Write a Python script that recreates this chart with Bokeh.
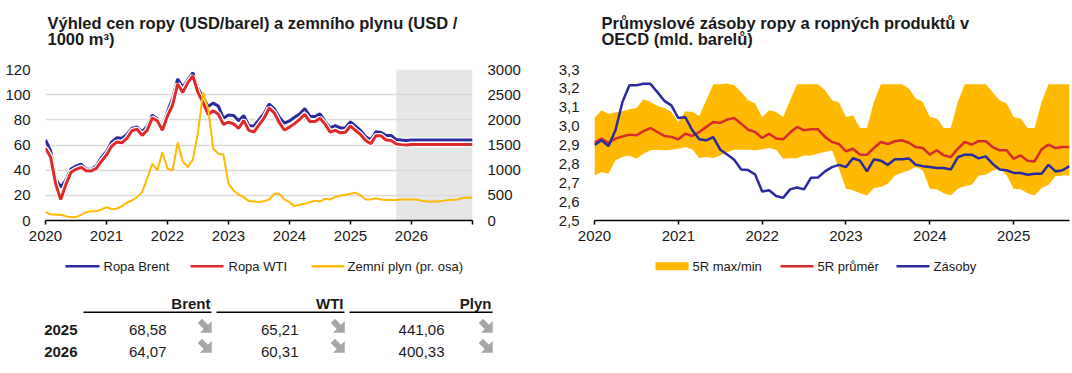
from bokeh.plotting import figure
from bokeh.models import (Range1d, LinearAxis, FixedTicker, BoxAnnotation,
                          CustomJSTickFormatter, ColumnDataSource)
from bokeh.layouts import row, column
from bokeh.embed import file_html
from bokeh.resources import INLINE
from bokeh.core.properties import value

FONT = "Liberation Sans"
TXT = "#1a1a1a"
BLUE = "#2B2B9E"
RED = "#DE2A2A"
GOLD = "#FFB900"
BLUE_R = "#2A2AA3"
RED_R = "#D92B2B"

# ---------------- left chart data (monthly, Jan 2020 - Jan 2027) ----------------
left_years = ["2020", "2021", "2022", "2023", "2024", "2025", "2026"]
brent = [64.0, 55.5, 33.0, 26.6, 32.0, 40.8, 43.2, 44.7, 41.0, 40.5, 43.5, 50.0,
         54.8, 62.3, 65.7, 65.3, 68.3, 73.4, 74.3, 70.5, 74.9, 83.7, 80.9, 74.3,
         86.5, 97.1, 112.5, 105.8, 112.0, 117.5, 105.1, 97.7, 90.6, 93.3, 90.9, 81.3,
         83.9, 83.5, 79.2, 83.4, 75.5, 75.0, 80.1, 85.1, 92.6, 88.7, 82.0, 77.3,
         79.1, 82.0, 84.7, 89.0, 82.9, 82.6, 84.7, 78.8, 73.6, 75.4, 73.6, 73.8,
         78.4, 75.0, 71.5, 66.5, 64.2, 70.5, 70.0, 67.5, 67.6, 64.3, 63.9, 63.6,
         64.07, 64.07, 64.07, 64.07, 64.07, 64.07, 64.07, 64.07, 64.07, 64.07, 64.07, 64.07,
         64.07]
wti = [57.5, 50.5, 29.2, 16.6, 28.5, 38.3, 40.7, 42.3, 39.6, 39.4, 41.4, 47.1,
       52.0, 59.0, 62.3, 61.7, 65.2, 71.4, 72.5, 67.7, 71.6, 81.5, 79.2, 71.7,
       83.2, 91.6, 108.5, 101.8, 109.6, 114.8, 101.6, 93.7, 84.3, 87.3, 84.4, 76.4,
       78.1, 76.8, 73.3, 79.4, 71.6, 70.3, 76.0, 81.4, 89.4, 85.6, 77.7, 71.9,
       74.2, 77.0, 80.4, 84.4, 78.6, 78.7, 81.3, 76.6, 70.2, 71.6, 69.7, 70.1,
       75.1, 71.5, 68.2, 63.5, 61.0, 67.3, 67.3, 64.0, 63.5, 60.8, 60.3, 60.0,
       60.31, 60.31, 60.31, 60.31, 60.31, 60.31, 60.31, 60.31, 60.31, 60.31, 60.31, 60.31,
       60.31]
gas = [166, 125, 113, 113, 86, 66, 66, 113, 166, 186, 186, 219,
       265, 225, 232, 285, 352, 398, 465, 564, 830, 1128, 995, 1360,
       1030, 995, 1547, 1175, 1062, 1215, 1750, 2542, 2224, 1427, 1327, 1307,
       730, 597, 511, 465, 385, 378, 365, 385, 418, 530, 530, 418,
       365, 285, 312, 332, 365, 391, 378, 431, 418, 465, 498, 511,
       531, 551, 498, 418, 418, 445, 418, 405, 405, 405, 418, 418,
       418, 418, 391, 378, 378, 378, 385, 405, 405, 418, 445, 458,
       451]
forecast_from = 69  # Oct 2025
left_legend = ["Ropa Brent", "Ropa WTI", "Zemní plyn (pr. osa)"]

# ---------------- right chart data (monthly, Jan 2020 - Sep 2025) ----------------
right_years = ["2020", "2021", "2022", "2023", "2024", "2025"]
max5 = [3.043, 3.084, 3.066, 3.072, 3.079, 3.090, 3.096, 3.143, 3.128, 3.107, 3.096, 3.075,
        3.022, 3.079, 3.075, 3.054, 3.137, 3.222, 3.222, 3.226, 3.217, 3.181, 3.137, 3.120,
        3.047, 3.084, 3.075, 3.049, 3.137, 3.222, 3.222, 3.222, 3.222, 3.190, 3.137, 3.125,
        3.049, 3.058, 2.990, 2.990, 3.128, 3.222, 3.222, 3.222, 3.222, 3.200, 3.146, 3.128,
        3.049, 3.040, 2.990, 2.990, 3.128, 3.222, 3.222, 3.222, 3.222, 3.180, 3.137, 3.120,
        3.049, 3.040, 2.990, 2.990, 3.128, 3.222, 3.222, 3.222, 3.222]
min5 = [2.739, 2.757, 2.748, 2.819, 2.836, 2.845, 2.827, 2.854, 2.872, 2.875, 2.872, 2.875,
        2.880, 2.889, 2.877, 2.831, 2.836, 2.831, 2.845, 2.863, 2.875, 2.875, 2.875, 2.872,
        2.877, 2.884, 2.875, 2.827, 2.830, 2.830, 2.845, 2.845, 2.855, 2.863, 2.872, 2.774,
        2.668, 2.660, 2.645, 2.633, 2.672, 2.677, 2.695, 2.739, 2.753, 2.765, 2.783, 2.765,
        2.668, 2.665, 2.645, 2.633, 2.668, 2.682, 2.690, 2.739, 2.743, 2.765, 2.774, 2.740,
        2.668, 2.665, 2.645, 2.633, 2.672, 2.690, 2.735, 2.739, 2.739]
avg5 = [2.912, 2.934, 2.912, 2.934, 2.945, 2.955, 2.951, 2.973, 2.990, 2.969, 2.948, 2.943,
        2.930, 2.960, 2.948, 2.969, 2.996, 3.022, 3.017, 3.035, 3.043, 3.013, 2.981, 2.969,
        2.937, 2.960, 2.934, 2.930, 2.966, 2.996, 2.978, 2.983, 2.983, 2.943, 2.916, 2.905,
        2.866, 2.880, 2.849, 2.849, 2.884, 2.916, 2.905, 2.920, 2.925, 2.912, 2.889, 2.884,
        2.849, 2.872, 2.845, 2.836, 2.880, 2.916, 2.902, 2.920, 2.920, 2.889, 2.872, 2.872,
        2.827, 2.845, 2.817, 2.813, 2.877, 2.902, 2.884, 2.889, 2.889]
stocks = [2.900, 2.925, 2.895, 2.978, 3.128, 3.217, 3.217, 3.224, 3.224, 3.180, 3.134, 3.110,
          3.043, 3.047, 2.978, 2.930, 2.925, 2.942, 2.875, 2.850, 2.822, 2.770, 2.767, 2.744,
          2.654, 2.660, 2.630, 2.620, 2.665, 2.675, 2.665, 2.727, 2.728, 2.760, 2.783, 2.795,
          2.783, 2.830, 2.817, 2.760, 2.824, 2.817, 2.795, 2.824, 2.824, 2.829, 2.795, 2.788,
          2.783, 2.778, 2.778, 2.770, 2.835, 2.849, 2.849, 2.829, 2.840, 2.800, 2.770, 2.766,
          2.752, 2.752, 2.742, 2.748, 2.748, 2.795, 2.760, 2.766, 2.788]
right_legend = ["5R max/min", "5R průměr", "Zásoby"]

# ---------------- table data ----------------
tab_cols = ["Brent", "WTI", "Plyn"]
tab_years = ["2025", "2026"]
tab_brent = [68.58, 64.07]
tab_wti = [65.21, 60.31]
tab_gas = [441.06, 400.33]


def style_text_axis(ax, size="15px"):
    ax.major_label_text_font = FONT
    ax.major_label_text_font_size = size
    ax.major_label_text_color = TXT
    ax.minor_tick_line_color = None


def style_y_axis(ax):
    ax.axis_line_color = None
    ax.major_tick_line_color = None
    ax.major_tick_in = 0
    ax.major_tick_out = 0
    ax.major_label_standoff = 15
    style_text_axis(ax)


def style_x_axis(ax):
    ax.axis_line_color = "black"
    ax.axis_line_width = 1.5
    ax.major_tick_line_color = "black"
    ax.major_tick_line_width = 1.5
    ax.major_tick_in = 0
    ax.major_tick_out = 4
    ax.major_label_standoff = 6
    style_text_axis(ax)


def blank_fig(w, h):
    f = figure(width=w, height=h, x_range=Range1d(0, w), y_range=Range1d(0, h),
               toolbar_location=None, output_backend="svg", title=None,
               x_axis_location=None, y_axis_location=None,
               min_border=0, min_border_left=0, min_border_right=0,
               min_border_top=0, min_border_bottom=0, outline_line_color=None)
    f.xgrid.visible = False
    f.ygrid.visible = False
    return f


def txt(p, x, y, text, size="15px", bold=False, align="left"):
    p.text(x=x, y=y, text=text, text_font=value(FONT), text_font_size=size,
           text_font_style="bold" if bold else "normal", text_color=TXT,
           text_align=align, text_baseline="middle")


WL, WR = 544, 528

# ================= titles (page y 0..50, y up) =================
TH = 50
tl = blank_fig(WL, TH)
txt(tl, [47, 47], [27.5, 11.5],
    ["Výhled cen ropy (USD/barel) a zemního plynu (USD /", "1000 m³)"], "16.5px", True)
tr = blank_fig(WR, TH)
txt(tr, [57, 57], [27.5, 11.5],
    ["Průmyslové zásoby ropy a ropných produktů v", "OECD (mld. barelů)"], "16.5px", True)

# ================= charts (page y 50..250, frame 69..220) =================
CH = 200

n_l = len(brent)
src_l = ColumnDataSource(dict(x=list(range(n_l)), brent=brent, wti=wti, gas=gas))
pl = figure(width=WL, height=CH, x_range=Range1d(0, n_l - 1), y_range=Range1d(0, 120),
            title=None, toolbar_location=None, output_backend="svg",
            min_border_left=45, min_border_right=72, min_border_top=19, min_border_bottom=30,
            outline_line_color=None)
pl.extra_y_ranges = {"gas": Range1d(0, 3000)}

pl.add_layout(BoxAnnotation(left=forecast_from, right=n_l - 1, fill_color="#E6E6E6",
                            fill_alpha=1, line_color=None, level="image"))

pl.xgrid.visible = False
pl.ygrid.grid_line_color = "#D9D9D9"
pl.ygrid.grid_line_width = 1.5

pl.yaxis.ticker = FixedTicker(ticks=list(range(0, 121, 20)))
style_y_axis(pl.yaxis[0])

ax_r = LinearAxis(y_range_name="gas", ticker=FixedTicker(ticks=list(range(0, 3001, 500))))
style_y_axis(ax_r)
pl.add_layout(ax_r, "right")

xt_l = list(range(0, n_l, 12))
pl.xaxis.ticker = FixedTicker(ticks=xt_l)
pl.xaxis.major_label_overrides = {t: (left_years[i] if i < len(left_years) else "")
                                  for i, t in enumerate(xt_l)}
style_x_axis(pl.xaxis[0])

pl.line("x", "brent", source=src_l, line_color="white", line_width=5.5)
pl.line("x", "brent", source=src_l, line_color=BLUE, line_width=3)
pl.line("x", "wti", source=src_l, line_color="white", line_width=5.5)
pl.line("x", "wti", source=src_l, line_color=RED, line_width=3)
pl.line("x", "gas", source=src_l, y_range_name="gas", line_color=GOLD, line_width=2)

n_r = len(stocks)
src_r = ColumnDataSource(dict(x=list(range(n_r)), mx=max5, mn=min5, avg=avg5, st=stocks))
pr = figure(width=WR, height=CH, x_range=Range1d(0, n_r - 1), y_range=Range1d(2.5, 3.3),
            title=None, toolbar_location=None, output_backend="svg",
            min_border_left=50, min_border_right=3, min_border_top=19, min_border_bottom=30,
            outline_line_color=None)
pr.xgrid.visible = False
pr.ygrid.visible = False

pr.yaxis.ticker = FixedTicker(ticks=[round(2.5 + 0.1 * i, 1) for i in range(9)])
pr.yaxis.formatter = CustomJSTickFormatter(code="return tick.toFixed(1).replace('.', ',');")
style_y_axis(pr.yaxis[0])

xt_r = list(range(0, n_r, 12))
pr.xaxis.ticker = FixedTicker(ticks=xt_r)
pr.xaxis.major_label_overrides = {t: right_years[i] for i, t in enumerate(xt_r)}
style_x_axis(pr.xaxis[0])

pr.varea("x", y1="mn", y2="mx", source=src_r, fill_color=GOLD)
pr.line("x", "avg", source=src_r, line_color=RED_R, line_width=2.5)
pr.line("x", "st", source=src_r, line_color=BLUE_R, line_width=2.5)

# ================= bottom: legends + table (page y 250..373, y up) =================
BW, BH = 1072, 123
bt = blank_fig(BW, BH)

LEG_Y = 107.3  # page y 265.7
# left legend
bt.segment(x0=[65, 190, 311], y0=[LEG_Y] * 3, x1=[99, 223, 344], y1=[LEG_Y] * 3,
           line_color=[BLUE, RED, GOLD], line_width=2.5)
txt(bt, [103, 228, 347], [LEG_Y] * 3, left_legend, "13px")
# right legend
bt.quad(left=[655], right=[688], bottom=[LEG_Y - 4], top=[LEG_Y + 4], fill_color=GOLD,
        line_color=None)
bt.segment(x0=[780, 896], y0=[LEG_Y] * 2, x1=[813, 929], y1=[LEG_Y] * 2,
           line_color=[RED_R, BLUE_R], line_width=2.5)
txt(bt, [692, 817, 933], [LEG_Y] * 3, right_legend, "13px")

# table
txt(bt, [210, 343, 491], [69.9] * 3, tab_cols, "15px", True, "right")
bt.segment(x0=[83, 216, 349], y0=[61.3] * 3, x1=[211, 344, 492], y1=[61.3] * 3,
           line_color="black", line_width=1.5)
row_y = [43.9, 21.5]
txt(bt, [77, 77], row_y, tab_years, "15px", True, "right")


def fmt(v):
    return f"{v:.2f}".replace(".", ",")


for xr, vals in zip([166, 298, 444], [tab_brent, tab_wti, tab_gas]):
    txt(bt, [xr, xr], row_y, [fmt(v) for v in vals], "15px", False, "right")

# trend arrow icons (pointing down-right)
AX = [5, 16, 16, 12.5, 6.5, 2.5, 8.5]
AY = [0, 0, 11, 7.5, 13.5, 9.5, 3.5]
xs, ys = [], []
for ox in [195, 328, 476]:
    for oy in [41, 21]:
        xs.append([ox + a for a in AX])
        ys.append([oy + b for b in AY])
bt.patches(xs=xs, ys=ys, fill_color="#A6A6A6", line_color="#A6A6A6", line_width=0.5)

layout = column(row(tl, tr), row(pl, pr), bt)
open("out.html", "w").write(file_html(layout, INLINE))
